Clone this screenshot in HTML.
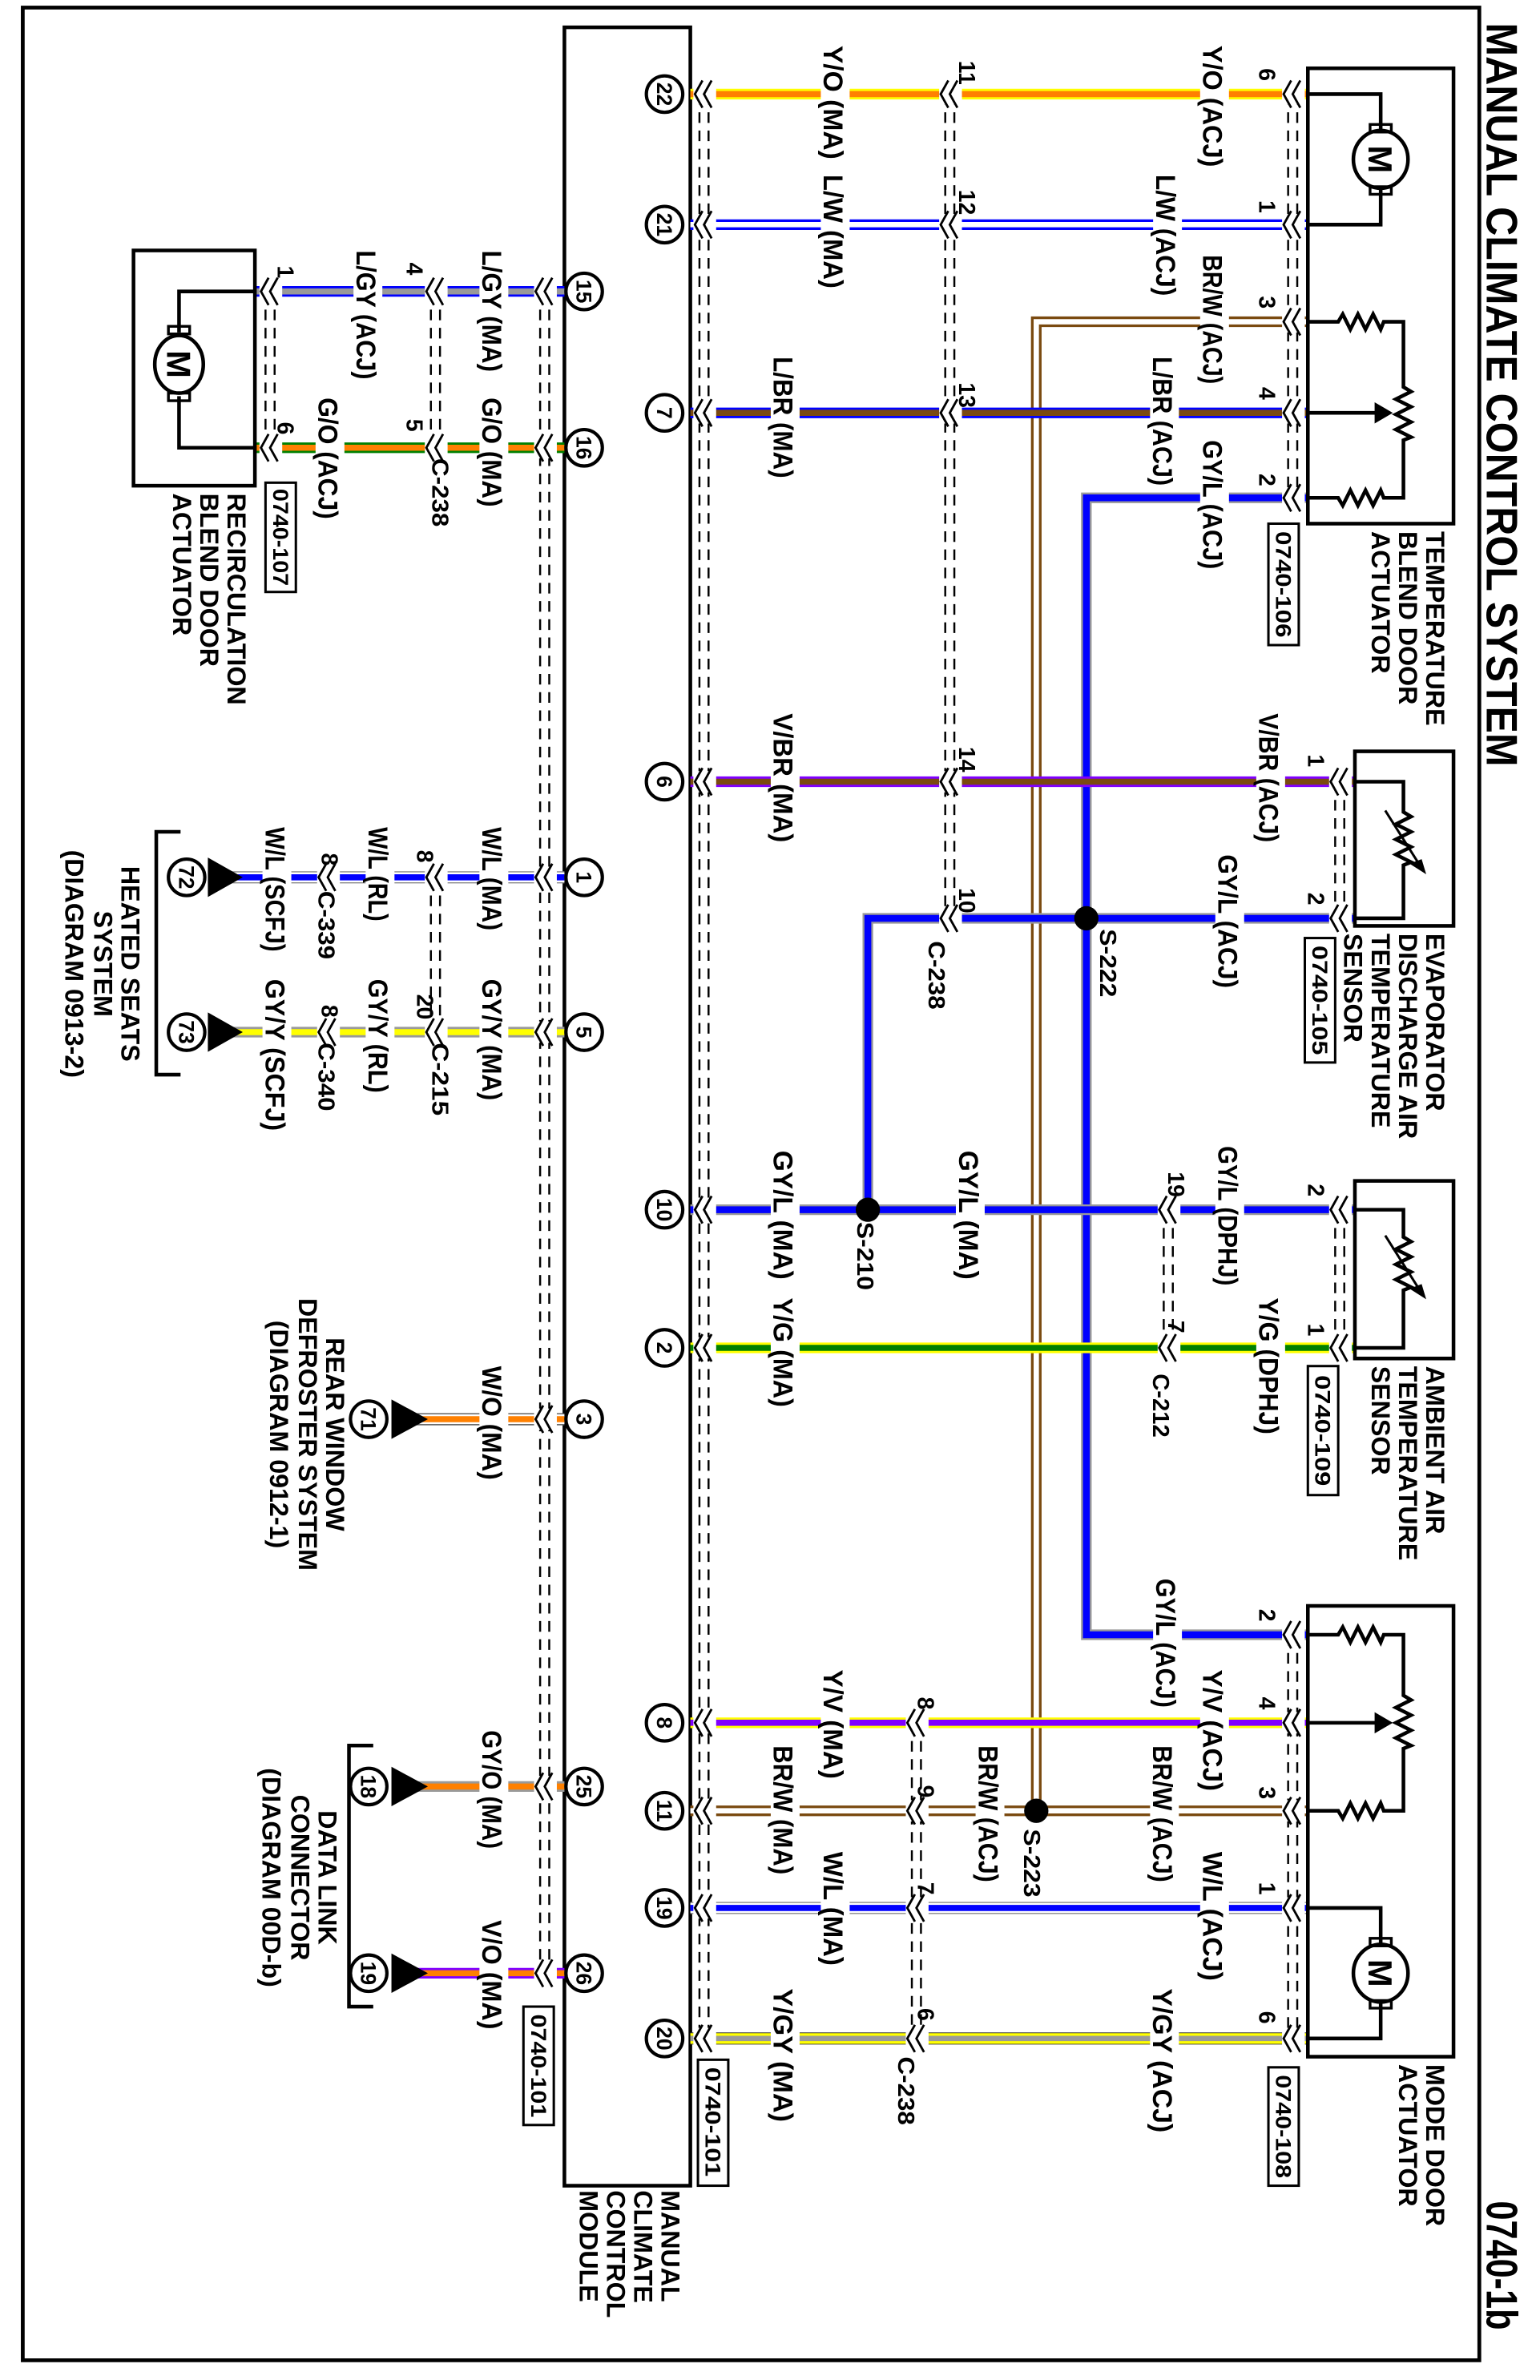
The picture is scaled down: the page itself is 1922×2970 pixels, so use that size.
<!DOCTYPE html>
<html><head><meta charset="utf-8"><style>
html,body{margin:0;padding:0;background:#fff}
svg{display:block}
text{font-family:"Liberation Sans",Arial,sans-serif;fill:#000}
.w{font-size:18px;font-weight:bold}.n{font-size:15px;font-weight:bold}.p{font-size:14px;font-weight:bold}.d{font-size:17px;font-weight:bold}.b{font-size:14px;font-weight:bold}
.dash{stroke:#000;stroke-width:1.3;stroke-dasharray:7 5;fill:none}
.ln{stroke:#000;stroke-width:2.4;fill:none}
</style></head><body>
<svg width="1922" height="2970" viewBox="0 0 1015 1568" preserveAspectRatio="none" xmlns="http://www.w3.org/2000/svg">
<defs>
<g id="ch"><rect x="-1" y="-7" width="15" height="14" fill="#fff"/><path d="M5 -9 L0 0 L5 9 M11 -9 L6 0 L11 9" fill="none" stroke="#000" stroke-width="1.5"/></g>
</defs>
<rect x="15" y="5" width="960" height="1550" fill="none" stroke="#000" stroke-width="2.5"/>
<text transform="translate(980,15) rotate(90)" font-size="29" font-weight="bold" textLength="490" lengthAdjust="spacingAndGlyphs">MANUAL CLIMATE CONTROL SYSTEM</text>
<text transform="translate(980,1450) rotate(90)" font-size="29" font-weight="bold" textLength="85" lengthAdjust="spacingAndGlyphs">0740-1b</text>

<rect x="372" y="18" width="83" height="1422" fill="none" stroke="#000" stroke-width="2.4"/>

<g fill="none" stroke-linejoin="miter">
<path d="M862 212 H683 V1193" stroke="#7a4a10" stroke-width="7"/><path d="M862 212 H683 V1193" stroke="#fff" stroke-width="3.5"/>
<path d="M862 328 H716 V1077 H862" stroke="#999" stroke-width="7"/><path d="M862 328 H716 V1077 H862" stroke="#0000ff" stroke-width="4.5"/>
<path d="M893 605 H572 V797" stroke="#999" stroke-width="7"/><path d="M893 605 H572 V797" stroke="#0000ff" stroke-width="4.5"/>
<path d="M455 62 H862" stroke="#ffff00" stroke-width="7"/><path d="M455 62 H862" stroke="#ff8000" stroke-width="4"/>
<path d="M455 148 H862" stroke="#0000ff" stroke-width="7"/><path d="M455 148 H862" stroke="#fff" stroke-width="3.5"/>
<path d="M455 272 H862" stroke="#0000ff" stroke-width="7"/><path d="M455 272 H862" stroke="#7a4a10" stroke-width="4"/>
<path d="M455 515 H893" stroke="#8000ff" stroke-width="7"/><path d="M455 515 H893" stroke="#7a4a10" stroke-width="4"/>
<path d="M455 797 H893" stroke="#999" stroke-width="7"/><path d="M455 797 H893" stroke="#0000ff" stroke-width="4.5"/>
<path d="M455 888 H893" stroke="#ffff00" stroke-width="7"/><path d="M455 888 H893" stroke="#008000" stroke-width="4"/>
<path d="M455 1135 H862" stroke="#ffff00" stroke-width="7"/><path d="M455 1135 H862" stroke="#8000ff" stroke-width="4"/>
<path d="M455 1193 H862" stroke="#7a4a10" stroke-width="7"/><path d="M455 1193 H862" stroke="#fff" stroke-width="3.5"/>
<path d="M455 1257 H862" stroke="#888" stroke-width="8"/><path d="M455 1257 H862" stroke="#fff" stroke-width="6.5"/><path d="M455 1257 H862" stroke="#0000ff" stroke-width="4"/>
<path d="M455 1343 H862" stroke="#333" stroke-width="8"/><path d="M455 1343 H862" stroke="#ffff00" stroke-width="7"/><path d="M455 1343 H862" stroke="#999" stroke-width="3.5"/>
<path d="M372 192 H168" stroke="#0000ff" stroke-width="7"/><path d="M372 192 H168" stroke="#999" stroke-width="4"/>
<path d="M372 295 H168" stroke="#008000" stroke-width="7"/><path d="M372 295 H168" stroke="#ff8000" stroke-width="4"/>
<path d="M372 578 H150" stroke="#888" stroke-width="8"/><path d="M372 578 H150" stroke="#fff" stroke-width="6.5"/><path d="M372 578 H150" stroke="#0000ff" stroke-width="4"/>
<path d="M372 680 H150" stroke="#999" stroke-width="7"/><path d="M372 680 H150" stroke="#ffff00" stroke-width="4"/>
<path d="M372 935 H270" stroke="#555" stroke-width="8"/><path d="M372 935 H270" stroke="#fff" stroke-width="6.5"/><path d="M372 935 H270" stroke="#ff8000" stroke-width="4"/>
<path d="M372 1177 H270" stroke="#999" stroke-width="7"/><path d="M372 1177 H270" stroke="#ff8000" stroke-width="4"/>
<path d="M372 1300 H270" stroke="#8000ff" stroke-width="7"/><path d="M372 1300 H270" stroke="#ff8000" stroke-width="4"/>
</g>

<circle cx="716" cy="605" r="8"/><circle cx="572" cy="797" r="8"/><circle cx="683" cy="1193" r="8"/>

<g class="dash">
<path d="M461 62 V1343 M467 62 V1343"/>
<path d="M623 62 V605 M629 62 V605"/>
<path d="M601 1135 V1343 M607 1135 V1343"/>
<path d="M767 797 V888 M773 797 V888"/>
<path d="M849 62 V328 M855 62 V328"/>
<path d="M849 1077 V1343 M855 1077 V1343"/>
<path d="M880 515 V605 M886 515 V605"/>
<path d="M880 797 V888 M886 797 V888"/>
<path d="M356 192 V1300 M362 192 V1300"/>
<path d="M284 192 V295 M290 192 V295"/>
<path d="M175 192 V295 M181 192 V295"/>
<path d="M284 578 V680 M290 578 V680"/>
</g>

<g>
<use href="#ch" x="458" y="62"/><use href="#ch" x="458" y="148"/><use href="#ch" x="458" y="272"/><use href="#ch" x="458" y="515"/><use href="#ch" x="458" y="797"/><use href="#ch" x="458" y="888"/><use href="#ch" x="458" y="1135"/><use href="#ch" x="458" y="1193"/><use href="#ch" x="458" y="1257"/><use href="#ch" x="458" y="1343"/>
<use href="#ch" x="620" y="62"/><use href="#ch" x="620" y="148"/><use href="#ch" x="620" y="272"/><use href="#ch" x="620" y="515"/><use href="#ch" x="620" y="605"/>
<use href="#ch" x="598" y="1135"/><use href="#ch" x="598" y="1193"/><use href="#ch" x="598" y="1257"/><use href="#ch" x="598" y="1343"/>
<use href="#ch" x="764" y="797"/><use href="#ch" x="764" y="888"/>
<use href="#ch" x="846" y="62"/><use href="#ch" x="846" y="148"/><use href="#ch" x="846" y="212"/><use href="#ch" x="846" y="272"/><use href="#ch" x="846" y="328"/>
<use href="#ch" x="846" y="1077"/><use href="#ch" x="846" y="1135"/><use href="#ch" x="846" y="1193"/><use href="#ch" x="846" y="1257"/><use href="#ch" x="846" y="1343"/>
<use href="#ch" x="877" y="515"/><use href="#ch" x="877" y="605"/><use href="#ch" x="877" y="797"/><use href="#ch" x="877" y="888"/>
<use href="#ch" x="353" y="192"/><use href="#ch" x="353" y="295"/><use href="#ch" x="353" y="578"/><use href="#ch" x="353" y="680"/><use href="#ch" x="353" y="935"/><use href="#ch" x="353" y="1177"/><use href="#ch" x="353" y="1300"/>
<use href="#ch" x="281" y="192"/><use href="#ch" x="281" y="295"/><use href="#ch" x="172" y="192"/><use href="#ch" x="172" y="295"/>
<use href="#ch" x="281" y="578"/><use href="#ch" x="281" y="680"/><use href="#ch" x="210" y="578"/><use href="#ch" x="210" y="680"/>
</g>

<g fill="#fff">
<rect x="541" y="55" width="19" height="14"/><rect x="791" y="55" width="19" height="14"/>
<rect x="541" y="141" width="19" height="14"/><rect x="760" y="141" width="19" height="14"/>
<rect x="791" y="205" width="19" height="14"/>
<rect x="508" y="265" width="19" height="14"/><rect x="758" y="265" width="19" height="14"/>
<rect x="791" y="321" width="19" height="14"/>
<rect x="508" y="508" width="19" height="14"/><rect x="828" y="508" width="19" height="14"/>
<rect x="801" y="598" width="19" height="14"/>
<rect x="508" y="790" width="19" height="14"/><rect x="630" y="790" width="19" height="14"/><rect x="801" y="790" width="19" height="14"/>
<rect x="508" y="881" width="19" height="14"/><rect x="828" y="881" width="19" height="14"/>
<rect x="760" y="1070" width="19" height="14"/>
<rect x="541" y="1128" width="19" height="14"/><rect x="791" y="1128" width="19" height="14"/>
<rect x="508" y="1186" width="19" height="14"/><rect x="643" y="1186" width="19" height="14"/><rect x="758" y="1186" width="19" height="14"/>
<rect x="541" y="1250" width="19" height="14"/><rect x="791" y="1250" width="19" height="14"/>
<rect x="508" y="1336" width="19" height="14"/><rect x="758" y="1336" width="19" height="14"/>
<rect x="316" y="185" width="19" height="14"/><rect x="233" y="185" width="19" height="14"/>
<rect x="316" y="288" width="19" height="14"/><rect x="208" y="288" width="19" height="14"/>
<rect x="316" y="571" width="19" height="14"/><rect x="241" y="571" width="19" height="14"/><rect x="173" y="571" width="19" height="14"/>
<rect x="316" y="673" width="19" height="14"/><rect x="241" y="673" width="19" height="14"/><rect x="173" y="673" width="19" height="14"/>
<rect x="316" y="928" width="19" height="14"/><rect x="316" y="1170" width="19" height="14"/><rect x="316" y="1293" width="19" height="14"/>
</g>

<g class="w">
<text transform="translate(543,30) rotate(90)" textLength="75" lengthAdjust="spacingAndGlyphs">Y/O (MA)</text>
<text transform="translate(793,30) rotate(90)" textLength="80" lengthAdjust="spacingAndGlyphs">Y/O (ACJ)</text>
<text transform="translate(543,115) rotate(90)" textLength="75" lengthAdjust="spacingAndGlyphs">L/W (MA)</text>
<text transform="translate(762,115) rotate(90)" textLength="80" lengthAdjust="spacingAndGlyphs">L/W (ACJ)</text>
<text transform="translate(793,168) rotate(90)" textLength="85" lengthAdjust="spacingAndGlyphs">BR/W (ACJ)</text>
<text transform="translate(510,235) rotate(90)" textLength="80" lengthAdjust="spacingAndGlyphs">L/BR (MA)</text>
<text transform="translate(760,235) rotate(90)" textLength="85" lengthAdjust="spacingAndGlyphs">L/BR (ACJ)</text>
<text transform="translate(793,290) rotate(90)" textLength="85" lengthAdjust="spacingAndGlyphs">GY/L (ACJ)</text>
<text transform="translate(510,470) rotate(90)" textLength="85" lengthAdjust="spacingAndGlyphs">V/BR (MA)</text>
<text transform="translate(830,470) rotate(90)" textLength="85" lengthAdjust="spacingAndGlyphs">V/BR (ACJ)</text>
<text transform="translate(803,563) rotate(90)" textLength="88" lengthAdjust="spacingAndGlyphs">GY/L (ACJ)</text>
<text transform="translate(510,758) rotate(90)" textLength="85" lengthAdjust="spacingAndGlyphs">GY/L (MA)</text>
<text transform="translate(632,758) rotate(90)" textLength="85" lengthAdjust="spacingAndGlyphs">GY/L (MA)</text>
<text transform="translate(803,755) rotate(90)" textLength="92" lengthAdjust="spacingAndGlyphs">GY/L (DPHJ)</text>
<text transform="translate(510,855) rotate(90)" textLength="72" lengthAdjust="spacingAndGlyphs">Y/G (MA)</text>
<text transform="translate(830,855) rotate(90)" textLength="90" lengthAdjust="spacingAndGlyphs">Y/G (DPHJ)</text>
<text transform="translate(762,1040) rotate(90)" textLength="85" lengthAdjust="spacingAndGlyphs">GY/L (ACJ)</text>
<text transform="translate(543,1100) rotate(90)" textLength="72" lengthAdjust="spacingAndGlyphs">Y/V (MA)</text>
<text transform="translate(793,1100) rotate(90)" textLength="80" lengthAdjust="spacingAndGlyphs">Y/V (ACJ)</text>
<text transform="translate(510,1150) rotate(90)" textLength="85" lengthAdjust="spacingAndGlyphs">BR/W (MA)</text>
<text transform="translate(645,1150) rotate(90)" textLength="90" lengthAdjust="spacingAndGlyphs">BR/W (ACJ)</text>
<text transform="translate(760,1150) rotate(90)" textLength="90" lengthAdjust="spacingAndGlyphs">BR/W (ACJ)</text>
<text transform="translate(543,1220) rotate(90)" textLength="75" lengthAdjust="spacingAndGlyphs">W/L (MA)</text>
<text transform="translate(793,1220) rotate(90)" textLength="85" lengthAdjust="spacingAndGlyphs">W/L (ACJ)</text>
<text transform="translate(510,1310) rotate(90)" textLength="88" lengthAdjust="spacingAndGlyphs">Y/GY (MA)</text>
<text transform="translate(760,1310) rotate(90)" textLength="95" lengthAdjust="spacingAndGlyphs">Y/GY (ACJ)</text>
<text transform="translate(318,165) rotate(90)" textLength="80" lengthAdjust="spacingAndGlyphs">L/GY (MA)</text>
<text transform="translate(235,165) rotate(90)" textLength="85" lengthAdjust="spacingAndGlyphs">L/GY (ACJ)</text>
<text transform="translate(318,262) rotate(90)" textLength="72" lengthAdjust="spacingAndGlyphs">G/O (MA)</text>
<text transform="translate(210,262) rotate(90)" textLength="80" lengthAdjust="spacingAndGlyphs">G/O (ACJ)</text>
<text transform="translate(318,545) rotate(90)" textLength="68" lengthAdjust="spacingAndGlyphs">W/L (MA)</text>
<text transform="translate(243,545) rotate(90)" textLength="62" lengthAdjust="spacingAndGlyphs">W/L (RL)</text>
<text transform="translate(175,545) rotate(90)" textLength="82" lengthAdjust="spacingAndGlyphs">W/L (SCFJ)</text>
<text transform="translate(318,645) rotate(90)" textLength="80" lengthAdjust="spacingAndGlyphs">GY/Y (MA)</text>
<text transform="translate(243,645) rotate(90)" textLength="75" lengthAdjust="spacingAndGlyphs">GY/Y (RL)</text>
<text transform="translate(175,645) rotate(90)" textLength="100" lengthAdjust="spacingAndGlyphs">GY/Y (SCFJ)</text>
<text transform="translate(318,900) rotate(90)" textLength="75" lengthAdjust="spacingAndGlyphs">W/O (MA)</text>
<text transform="translate(318,1140) rotate(90)" textLength="78" lengthAdjust="spacingAndGlyphs">GY/O (MA)</text>
<text transform="translate(318,1265) rotate(90)" textLength="72" lengthAdjust="spacingAndGlyphs">V/O (MA)</text>
</g>

<g class="n">
<text transform="translate(632,40) rotate(90)">11</text>
<text transform="translate(830,45) rotate(90)">6</text>
<text transform="translate(632,125) rotate(90)">12</text>
<text transform="translate(830,132) rotate(90)">1</text>
<text transform="translate(830,195) rotate(90)">3</text>
<text transform="translate(632,252) rotate(90)">13</text>
<text transform="translate(830,255) rotate(90)">4</text>
<text transform="translate(830,312) rotate(90)">2</text>
<text transform="translate(632,492) rotate(90)">14</text>
<text transform="translate(862,497) rotate(90)">1</text>
<text transform="translate(862,588) rotate(90)">2</text>
<text transform="translate(632,585) rotate(90)">10</text>
<text transform="translate(612,620) rotate(90)" textLength="45" lengthAdjust="spacingAndGlyphs">C-238</text>
<text transform="translate(725,612) rotate(90)" textLength="45" lengthAdjust="spacingAndGlyphs">S-222</text>
<text transform="translate(565,805) rotate(90)" textLength="45" lengthAdjust="spacingAndGlyphs">S-210</text>
<text transform="translate(770,772) rotate(90)">19</text>
<text transform="translate(862,780) rotate(90)">2</text>
<text transform="translate(770,870) rotate(90)">7</text>
<text transform="translate(760,905) rotate(90)" textLength="42" lengthAdjust="spacingAndGlyphs">C-212</text>
<text transform="translate(862,872) rotate(90)">1</text>
<text transform="translate(830,1060) rotate(90)">2</text>
<text transform="translate(605,1118) rotate(90)">8</text>
<text transform="translate(830,1118) rotate(90)">4</text>
<text transform="translate(605,1176) rotate(90)">9</text>
<text transform="translate(675,1205) rotate(90)" textLength="45" lengthAdjust="spacingAndGlyphs">S-223</text>
<text transform="translate(830,1177) rotate(90)">3</text>
<text transform="translate(605,1240) rotate(90)">7</text>
<text transform="translate(830,1240) rotate(90)">1</text>
<text transform="translate(605,1323) rotate(90)">6</text>
<text transform="translate(592,1355) rotate(90)" textLength="45" lengthAdjust="spacingAndGlyphs">C-238</text>
<text transform="translate(830,1325) rotate(90)">6</text>
<text transform="translate(268,173) rotate(90)">4</text>
<text transform="translate(183,175) rotate(90)">1</text>
<text transform="translate(268,276) rotate(90)">5</text>
<text transform="translate(285,302) rotate(90)" textLength="45" lengthAdjust="spacingAndGlyphs">C-238</text>
<text transform="translate(183,278) rotate(90)">6</text>
<text transform="translate(275,560) rotate(90)">8</text>
<text transform="translate(212,562) rotate(90)">8</text>
<text transform="translate(210,587) rotate(90)" textLength="45" lengthAdjust="spacingAndGlyphs">C-339</text>
<text transform="translate(275,655) rotate(90)">20</text>
<text transform="translate(285,687) rotate(90)" textLength="48" lengthAdjust="spacingAndGlyphs">C-215</text>
<text transform="translate(212,662) rotate(90)">8</text>
<text transform="translate(210,687) rotate(90)" textLength="45" lengthAdjust="spacingAndGlyphs">C-340</text>
</g>

<g fill="none" stroke="#000" stroke-width="1.6">
<rect x="836" y="345" width="20" height="80"/><rect x="860" y="618" width="20" height="82"/><rect x="862" y="900" width="20" height="85"/>
<rect x="836" y="1362" width="20" height="78"/><rect x="460" y="1357" width="20" height="83"/><rect x="175" y="318" width="20" height="72"/><rect x="345" y="1322" width="20" height="78"/>
</g>
<g class="b">
<text transform="translate(841,350) rotate(90)" textLength="70" lengthAdjust="spacingAndGlyphs">0740-106</text>
<text transform="translate(865,623) rotate(90)" textLength="72" lengthAdjust="spacingAndGlyphs">0740-105</text>
<text transform="translate(867,906) rotate(90)" textLength="73" lengthAdjust="spacingAndGlyphs">0740-109</text>
<text transform="translate(841,1367) rotate(90)" textLength="68" lengthAdjust="spacingAndGlyphs">0740-108</text>
<text transform="translate(465,1362) rotate(90)" textLength="72" lengthAdjust="spacingAndGlyphs">0740-101</text>
<text transform="translate(180,322) rotate(90)" textLength="64" lengthAdjust="spacingAndGlyphs">0740-107</text>
<text transform="translate(350,1327) rotate(90)" textLength="68" lengthAdjust="spacingAndGlyphs">0740-101</text>
</g>

<g fill="#fff" stroke="#000" stroke-width="2.2">
<circle cx="438" cy="62" r="12"/><circle cx="438" cy="148" r="12"/><circle cx="438" cy="272" r="12"/><circle cx="438" cy="515" r="12"/><circle cx="438" cy="797" r="12"/><circle cx="438" cy="888" r="12"/><circle cx="438" cy="1135" r="12"/><circle cx="438" cy="1193" r="12"/><circle cx="438" cy="1257" r="12"/><circle cx="438" cy="1343" r="12"/>
<circle cx="385" cy="192" r="12"/><circle cx="385" cy="295" r="12"/><circle cx="385" cy="578" r="12"/><circle cx="385" cy="680" r="12"/><circle cx="385" cy="935" r="12"/><circle cx="385" cy="1177" r="12"/><circle cx="385" cy="1300" r="12"/>
<circle cx="123" cy="578" r="12"/><circle cx="123" cy="680" r="12"/><circle cx="243" cy="935" r="12"/><circle cx="243" cy="1177" r="12"/><circle cx="243" cy="1300" r="12"/>
</g>
<g class="p" text-anchor="middle">
<text transform="translate(433,62) rotate(90)">22</text><text transform="translate(433,148) rotate(90)">21</text><text transform="translate(433,272) rotate(90)">7</text><text transform="translate(433,515) rotate(90)">6</text><text transform="translate(433,797) rotate(90)">10</text><text transform="translate(433,888) rotate(90)">2</text><text transform="translate(433,1135) rotate(90)">8</text><text transform="translate(433,1193) rotate(90)">11</text><text transform="translate(433,1257) rotate(90)">19</text><text transform="translate(433,1343) rotate(90)">20</text>
<text transform="translate(380,192) rotate(90)">15</text><text transform="translate(380,295) rotate(90)">16</text><text transform="translate(380,578) rotate(90)">1</text><text transform="translate(380,680) rotate(90)">5</text><text transform="translate(380,935) rotate(90)">3</text><text transform="translate(380,1177) rotate(90)">25</text><text transform="translate(380,1300) rotate(90)">26</text>
<text transform="translate(118,578) rotate(90)">72</text><text transform="translate(118,680) rotate(90)">73</text><text transform="translate(238,935) rotate(90)">71</text><text transform="translate(238,1177) rotate(90)">18</text><text transform="translate(238,1300) rotate(90)">19</text>
</g>
<path d="M137 565 L137 591 L160 578 Z M137 667 L137 693 L160 680 Z M258 922 L258 948 L282 935 Z M258 1164 L258 1190 L282 1177 Z M258 1287 L258 1313 L282 1300 Z"/>
<path class="ln" d="M119 548 H103 V708 H119 M246 1150 H230 V1322 H246"/>

<g class="d" text-anchor="middle">
<text transform="translate(80,635) rotate(90)">HEATED SEATS</text>
<text transform="translate(62,635) rotate(90)">SYSTEM</text>
<text transform="translate(43,635) rotate(90)">(DIAGRAM 0913-2)</text>
<text transform="translate(215,945) rotate(90)">REAR WINDOW</text>
<text transform="translate(197,945) rotate(90)">DEFROSTER SYSTEM</text>
<text transform="translate(178,945) rotate(90)">(DIAGRAM 0912-1)</text>
<text transform="translate(210,1237) rotate(90)">DATA LINK</text>
<text transform="translate(192,1237) rotate(90)">CONNECTOR</text>
<text transform="translate(173,1237) rotate(90)">(DIAGRAM 00D-b)</text>
</g>
<g class="d">
<text transform="translate(940,350) rotate(90)">TEMPERATURE</text>
<text transform="translate(922,350) rotate(90)">BLEND DOOR</text>
<text transform="translate(904,350) rotate(90)">ACTUATOR</text>
<text transform="translate(940,615) rotate(90)">EVAPORATOR</text>
<text transform="translate(922,615) rotate(90)">DISCHARGE AIR</text>
<text transform="translate(904,615) rotate(90)">TEMPERATURE</text>
<text transform="translate(886,615) rotate(90)">SENSOR</text>
<text transform="translate(940,900) rotate(90)">AMBIENT AIR</text>
<text transform="translate(922,900) rotate(90)">TEMPERATURE</text>
<text transform="translate(904,900) rotate(90)">SENSOR</text>
<text transform="translate(940,1360) rotate(90)">MODE DOOR</text>
<text transform="translate(922,1360) rotate(90)">ACTUATOR</text>
<text transform="translate(436,1443) rotate(90)">MANUAL</text>
<text transform="translate(418,1443) rotate(90)">CLIMATE</text>
<text transform="translate(400,1443) rotate(90)">CONTROL</text>
<text transform="translate(382,1443) rotate(90)">MODULE</text>
<text transform="translate(150,325) rotate(90)">RECIRCULATION</text>
<text transform="translate(132,325) rotate(90)">BLEND DOOR</text>
<text transform="translate(114,325) rotate(90)">ACTUATOR</text>
</g>

<g class="ln">
<rect x="862" y="45" width="96" height="300"/>
<path d="M862 62 H910 V86 M910 124 V148 H862"/>
<ellipse cx="910" cy="105" rx="18" ry="19"/>
<rect x="903" y="82" width="14" height="5" stroke-width="1.8"/><rect x="903" y="123" width="14" height="5" stroke-width="1.8"/>
<path d="M862 212 H882 l3 -5 l5 10 l5 -10 l5 10 l5 -10 l5 10 l2 -5 H925 V255 l5 3 l-10 5 l10 5 l-10 5 l10 5 l-10 5 l10 5 l-5 2 V328 H912 l-2 -5 l-5 10 l-5 -10 l-5 10 l-5 -10 l-5 10 l-3 -5 H862"/>
<path d="M862 272 H908"/>
<rect x="862" y="1058" width="96" height="297"/>
<path d="M862 1077 H882 l3 -5 l5 10 l5 -10 l5 10 l5 -10 l5 10 l2 -5 H925 V1117 l5 3 l-10 5 l10 5 l-10 5 l10 5 l-10 5 l10 5 l-5 2 V1193 H912 l-2 -5 l-5 10 l-5 -10 l-5 10 l-5 -10 l-5 10 l-3 -5 H862"/>
<path d="M862 1135 H908"/>
<path d="M862 1257 H910 V1280 M910 1320 V1343 H862"/>
<ellipse cx="910" cy="1300" rx="18" ry="19"/>
<rect x="903" y="1277" width="14" height="5" stroke-width="1.8"/><rect x="903" y="1318" width="14" height="5" stroke-width="1.8"/>
<rect x="88" y="165" width="80" height="155"/>
<path d="M168 192 H118 V219 M118 261 V295 H168"/>
<ellipse cx="118" cy="240" rx="16" ry="19"/>
<rect x="111" y="215" width="14" height="5" stroke-width="1.8"/><rect x="111" y="259" width="14" height="5" stroke-width="1.8"/>
<rect x="893" y="495" width="65" height="115"/>
<path d="M893 515 H925 V535 l5 3 l-10 5 l10 5 l-10 5 l10 5 l-10 5 l10 5 l-5 2 V605 H893"/>
<path d="M913 534 L937 572" stroke-width="1.6"/>
<rect x="893" y="778" width="65" height="117"/>
<path d="M893 797 H925 V815 l5 3 l-10 5 l10 5 l-10 5 l10 5 l-10 5 l10 5 l-5 2 V888 H893"/>
<path d="M913 814 L937 852" stroke-width="1.6"/>
</g>
<path d="M918 272 L906 265 L906 279 Z M918 1135 L906 1128 L906 1142 Z M940 576 L929 569 L937 566 Z M940 856 L929 849 L937 846 Z"/>
<g font-size="22" font-weight="bold" text-anchor="middle">
<text transform="translate(902,105) rotate(90)">M</text>
<text transform="translate(902,1300) rotate(90)">M</text>
<text transform="translate(110,240) rotate(90)">M</text>
</g>
</svg>
</body></html>
